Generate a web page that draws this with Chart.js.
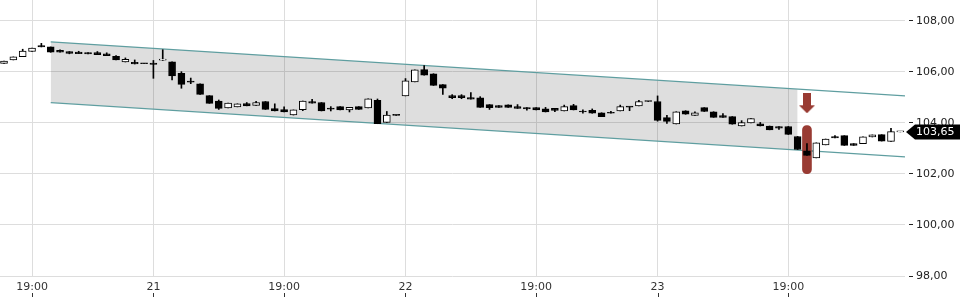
<!DOCTYPE html>
<html>
<head>
<meta charset="utf-8">
<script src="https://cdn.jsdelivr.net/npm/chart.js@4.4.1/dist/chart.umd.min.js"></script>
<style>
  html, body { margin: 0; padding: 0; background: #fff; }
</style>
</head>
<body>
<canvas id="grafico" width="960" height="300"></canvas>
<script>
// candles (one per slot, index 0..96)
const opens = [106.33,106.47,106.60,106.80,107.03,106.98,106.85,106.80,106.78,106.76,
  106.76,106.71,106.61,106.39,106.38,106.33,106.35,106.46,106.40,105.95,
  105.63,105.53,105.07,104.86,104.59,104.63,104.76,104.69,104.84,104.56,
  104.52,104.31,104.52,104.84,104.80,104.57,104.64,104.51,104.64,104.59,
  104.89,104.02,104.31,105.06,105.61,106.09,105.93,105.50,105.07,105.07,
  104.99,104.98,104.72,104.68,104.71,104.64,104.60,104.60,104.55,104.57,
  104.47,104.68,104.45,104.49,104.40,104.42,104.47,104.63,104.67,104.85,
  104.84,104.21,103.96,104.48,104.30,104.60,104.44,104.29,104.25,103.88,
  104.00,103.97,103.88,103.86,103.86,103.47,102.91,102.63,103.14,103.47,
  103.50,103.19,103.19,103.45,103.54,103.28,103.65];
const closes = [106.43,106.59,106.82,106.94,106.98,106.77,106.77,106.73,106.72,106.71,
  106.68,106.64,106.47,106.49,106.31,106.32,106.29,106.47,105.84,105.51,
  105.60,105.12,104.77,104.57,104.78,104.75,104.67,104.80,104.53,104.47,
  104.43,104.51,104.86,104.78,104.47,104.54,104.51,104.61,104.53,104.95,
  103.97,104.31,104.30,105.65,106.08,105.87,105.47,105.36,104.99,104.99,
  104.93,104.61,104.60,104.61,104.61,104.57,104.55,104.51,104.43,104.49,
  104.64,104.51,104.43,104.38,104.25,104.38,104.64,104.62,104.84,104.84,
  104.10,104.06,104.44,104.34,104.40,104.45,104.22,104.22,103.95,104.01,
  104.17,103.88,103.73,103.80,103.55,102.96,102.73,103.22,103.37,103.41,
  103.12,103.12,103.46,103.53,103.29,103.66,103.65];
const highs = [106.43,106.59,106.89,106.94,107.12,106.98,106.87,106.80,106.81,106.76,
  106.80,106.75,106.64,106.55,106.47,106.33,106.45,106.87,106.40,106.01,
  105.76,105.53,105.07,104.90,104.78,104.75,104.80,104.85,104.84,104.75,
  104.63,104.51,104.86,104.93,104.80,104.64,104.64,104.61,104.64,104.95,
  104.94,104.45,104.31,105.74,106.08,106.25,105.93,105.50,105.11,105.11,
  105.19,105.03,104.72,104.68,104.71,104.72,104.60,104.60,104.61,104.57,
  104.70,104.73,104.51,104.55,104.40,104.46,104.70,104.63,104.89,104.85,
  105.06,104.30,104.44,104.48,104.44,104.60,104.44,104.37,104.25,104.09,
  104.17,104.02,103.88,103.86,103.86,103.47,103.19,103.22,103.37,103.50,
  103.50,103.19,103.46,103.53,103.54,103.79,103.65];
const lows = [106.33,106.47,106.60,106.80,106.98,106.77,106.77,106.71,106.72,106.71,
  106.68,106.64,106.47,106.39,106.31,106.32,105.75,106.45,105.69,105.36,
  105.54,105.12,104.77,104.53,104.59,104.63,104.67,104.69,104.53,104.47,
  104.43,104.31,104.48,104.78,104.47,104.47,104.51,104.43,104.53,104.59,
  103.97,104.02,104.30,105.06,105.61,105.87,105.47,105.12,104.95,104.95,
  104.93,104.61,104.53,104.61,104.61,104.57,104.50,104.51,104.43,104.44,
  104.47,104.51,104.38,104.38,104.25,104.38,104.47,104.48,104.67,104.84,
  104.07,103.98,103.96,104.34,104.30,104.45,104.22,104.22,103.95,103.88,
  104.00,103.88,103.73,103.75,103.55,102.96,102.73,102.63,103.14,103.41,
  103.12,103.12,103.19,103.45,103.29,103.28,103.65];

// axis ticks
const xTickPos = [3, 16, 30, 43, 57, 70, 84];
const xTickLabels = ['19:00', '21', '19:00', '22', '19:00', '23', '19:00'];
const yTicks = [98, 100, 102, 104, 106, 108];

// trend channel
const channelX = [5, 96.5];
const channelUpper = [107.18, 105.06];
const channelLower = [104.80, 102.67];
const bandX = [5, 85];
const bandUpper = [107.18, 105.32];
const bandLower = [104.80, 102.94];

// signal marks
const signalX = 86;
const signalBar = [102.01, 103.90];
const signalArrow = 104.77;
const lastPrice = 103.65;

const red = '#993b33';
const fmt = v => v.toFixed(2).replace('.', ',');

// arrow image for the signal point
const arrowImg = document.createElement('canvas');
arrowImg.width = 16;
arrowImg.height = 20;
const a = arrowImg.getContext('2d');
a.fillStyle = red;
a.fillRect(4, 0, 8, 12);
a.beginPath();
a.moveTo(0, 12);
a.lineTo(16, 12);
a.lineTo(8, 20);
a.closePath();
a.fill();

const idx = opens.map((_, i) => i);

const priceTag = {
  id: 'priceTag',
  afterDraw(chart) {
    const { ctx, chartArea, scales: { x, y } } = chart;
    ctx.save();
    // small tick marks under the time labels
    ctx.strokeStyle = '#333';
    ctx.lineWidth = 1;
    x.ticks.forEach(t => {
      const px = Math.round(x.getPixelForValue(t.value)) + 0.5;
      ctx.beginPath();
      ctx.moveTo(px, 293);
      ctx.lineTo(px, 297);
      ctx.stroke();
    });
    // last price label
    const py = Math.round(y.getPixelForValue(lastPrice));
    ctx.fillStyle = '#000';
    ctx.beginPath();
    ctx.moveTo(chartArea.right + 1, py);
    ctx.lineTo(chartArea.right + 10, py - 7.5);
    ctx.lineTo(chart.width, py - 7.5);
    ctx.lineTo(chart.width, py + 7.5);
    ctx.lineTo(chartArea.right + 10, py + 7.5);
    ctx.closePath();
    ctx.fill();
    ctx.fillStyle = '#fff';
    ctx.font = '11px "DejaVu Sans"';
    ctx.textBaseline = 'middle';
    ctx.fillText(fmt(lastPrice), chartArea.right + 11, py + 0.5);
    ctx.restore();
  }
};

const ctx = document.getElementById('grafico').getContext('2d');
new Chart(ctx, {
  type: 'bar',
  data: {
    datasets: [
      {
        // candle bodies
        data: idx.map(i => ({ x: i, y: [opens[i], closes[i]] })),
        backgroundColor: c => {
          const i = c.dataIndex;
          return closes[i] >= opens[i] ? '#ffffff' : '#000000';
        },
        borderColor: '#000',
        borderWidth: 1,
        borderSkipped: false,
        barThickness: 7,
        minBarLength: 1,
        grouped: false
      },
      {
        // wicks
        data: idx.map(i => ({ x: i, y: [lows[i], highs[i]] })),
        backgroundColor: '#000',
        borderWidth: 0,
        barThickness: 1,
        grouped: false
      },
      {
        data: [{ x: signalX, y: signalBar }],
        backgroundColor: red,
        borderWidth: 0,
        borderRadius: 5,
        borderSkipped: false,
        barThickness: 9,
        grouped: false
      },
      {
        type: 'line',
        data: [{ x: signalX, y: signalArrow }],
        showLine: false,
        pointStyle: arrowImg
      },
      {
        type: 'line',
        data: channelX.map((v, i) => ({ x: v, y: channelUpper[i] })),
        borderColor: '#5f9ea0',
        borderWidth: 1.3,
        pointRadius: 0,
        fill: false
      },
      {
        type: 'line',
        data: channelX.map((v, i) => ({ x: v, y: channelLower[i] })),
        borderColor: '#5f9ea0',
        borderWidth: 1.3,
        pointRadius: 0,
        fill: false
      },
      {
        type: 'line',
        data: bandX.map((v, i) => ({ x: v, y: bandUpper[i] })),
        borderWidth: 0,
        pointRadius: 0,
        backgroundColor: 'rgba(0,0,0,0.13)',
        fill: '+1'
      },
      {
        type: 'line',
        data: bandX.map((v, i) => ({ x: v, y: bandLower[i] })),
        borderWidth: 0,
        pointRadius: 0,
        fill: false
      }
    ]
  },
  options: {
    responsive: false,
    animation: false,
    events: [],
    layout: { padding: 0, autoPadding: false },
    plugins: { legend: { display: false }, tooltip: { enabled: false } },
    scales: {
      x: {
        type: 'linear',
        min: -0.43,
        max: 96.5,
        offset: false,
        grid: { color: '#dddddd', offset: false, drawTicks: false },
        border: { display: false },
        afterBuildTicks: s => { s.ticks = xTickPos.map(v => ({ value: v })); },
        afterFit: s => { s.height = 24; s.paddingLeft = 0; s.paddingRight = 0; },
        ticks: {
          autoSkip: false,
          maxRotation: 0,
          padding: 5,
          color: '#333',
          font: { family: 'DejaVu Sans', size: 11 },
          callback: (v, i) => xTickLabels[i]
        }
      },
      y: {
        position: 'right',
        min: 98,
        max: 108.82,
        grid: { color: '#dddddd', tickLength: 8, tickColor: '#222', tickBorderDash: [0, 4, 4, 0] },
        border: { display: false },
        afterBuildTicks: s => { s.ticks = yTicks.map(v => ({ value: v })); },
        afterFit: s => { s.width = 55; s.paddingTop = 0; s.paddingBottom = 0; },
        ticks: {
          padding: 3,
          color: '#222',
          font: { family: 'DejaVu Sans', size: 11 },
          callback: v => fmt(v)
        }
      }
    }
  },
  plugins: [priceTag]
});
</script>
</body>
</html>
